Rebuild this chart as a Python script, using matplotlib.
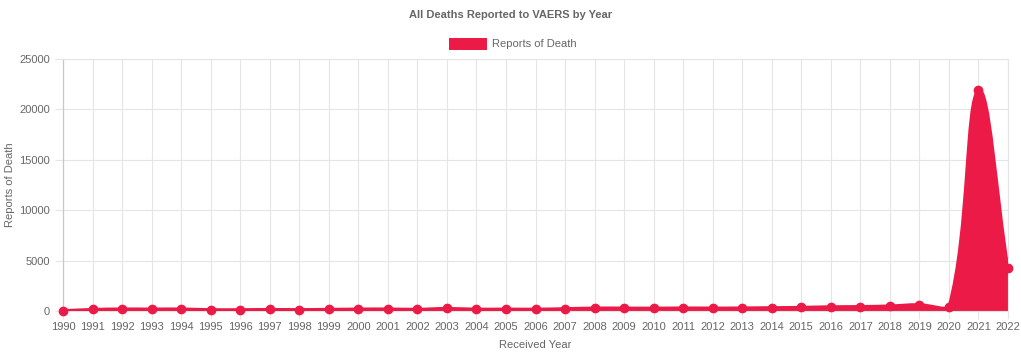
import math
import matplotlib
matplotlib.use('Agg')
import matplotlib.pyplot as plt
from matplotlib.path import Path
from matplotlib.patches import PathPatch, Rectangle

# Data: VAERS death reports per received year
years = list(range(1990, 2023))
deaths = [30, 150, 200, 190, 200, 130, 130, 150, 140, 160,
          190, 200, 170, 250, 180, 190, 180, 230, 290, 290,
          280, 300, 290, 300, 330, 360, 420, 440, 500, 620,
          400, 21900, 4250]

RED = '#ec1a47'
GRAY = '#666666'
GRID = '#e5e5e5'
W, H = 1021, 355
YMAX = 25000


def spline_path(xs, ys, sx, sy, t=0.4):
    # chart.js-style bezier smoothing, computed in pixel space
    px = [x * sx for x in xs]
    py = [y * sy for y in ys]
    n = len(px)
    prev_cp, next_cp = [], []
    for i in range(n):
        c = (px[i], py[i])
        p = (px[i - 1], py[i - 1]) if i > 0 else c
        q = (px[i + 1], py[i + 1]) if i < n - 1 else c
        d01 = math.hypot(c[0] - p[0], c[1] - p[1])
        d12 = math.hypot(q[0] - c[0], q[1] - c[1])
        tot = d01 + d12
        s01 = d01 / tot if tot else 0
        s12 = d12 / tot if tot else 0
        fa, fb = t * s01, t * s12
        a = (c[0] - fa * (q[0] - p[0]), c[1] - fa * (q[1] - p[1]))
        b = (c[0] + fb * (q[0] - p[0]), c[1] + fb * (q[1] - p[1]))
        prev_cp.append(a)
        next_cp.append(b)

    def cap(pt):
        x = min(max(pt[0], px[0]), px[-1])
        y = min(max(pt[1], 0), YMAX * sy)
        return (x / sx, y / sy)

    verts = [(xs[0], ys[0])]
    codes = [Path.MOVETO]
    for i in range(1, n):
        verts += [cap(next_cp[i - 1]), cap(prev_cp[i]), (xs[i], ys[i])]
        codes += [Path.CURVE4] * 3
    return verts, codes


fig = plt.figure(figsize=(W / 100, H / 100), dpi=100)
plt.rcParams['font.family'] = ['Liberation Sans', 'DejaVu Sans']
ax = fig.add_axes([63 / W, 1 - 311 / H, (1008 - 63) / W, (311 - 59) / H])

sx = (1008 - 63) / (years[-1] - years[0])
sy = (311 - 59) / YMAX
verts, codes = spline_path(years, deaths, sx, sy)

# filled area under the curve
fverts = verts + [(years[-1], 0), (years[0], 0), (years[0], 0)]
fcodes = codes + [Path.LINETO, Path.LINETO, Path.CLOSEPOLY]
ax.add_patch(PathPatch(Path(fverts, fcodes), facecolor=RED, edgecolor='none', zorder=2))
ax.add_patch(PathPatch(Path(verts, codes), facecolor='none', edgecolor=RED,
                       linewidth=2.2, zorder=3, capstyle='round', joinstyle='round'))
ax.plot(years, deaths, 'o', color=RED, markersize=6, zorder=4, clip_on=False)

ax.set_xlim(years[0], years[-1])
ax.set_ylim(0, YMAX)
ax.set_xticks(years)
ax.set_xticklabels([str(y) for y in years])
ax.set_yticks(range(0, YMAX + 1, 5000))
ax.grid(True, color=GRID, linewidth=0.8, zorder=0)
ax.set_axisbelow(True)
for side in ['top', 'right', 'bottom']:
    ax.spines[side].set_color(GRID)
    ax.spines[side].set_linewidth(0.8)
ax.spines['left'].set_color('#c8c8c8')
ax.spines['left'].set_linewidth(0.9)
ax.tick_params(axis='both', colors=GRID, labelcolor=GRAY, labelsize=8, length=6, width=0.8)
ax.tick_params(axis='x', pad=2)

ax.set_xlabel('Received Year', color=GRAY, fontsize=8, labelpad=6)
fig.text(10 / W, 1 - 185 / H, 'Reports of Death', rotation=90, ha='center', va='center',
         color=GRAY, fontsize=8)

fig.text(0.5, 1 - 15 / H, 'All Deaths Reported to VAERS by Year', ha='center', va='center',
         color=GRAY, fontsize=8, fontweight='bold')

# legend drawn by hand, chart.js style
fig.patches.append(Rectangle((449 / W, 1 - 50 / H), 38 / W, 12 / H, transform=fig.transFigure,
                             facecolor=RED, edgecolor='none'))
fig.text(492 / W, 1 - 44 / H, 'Reports of Death', ha='left', va='center', color=GRAY, fontsize=8)

fig.savefig('out.png', dpi=100)
